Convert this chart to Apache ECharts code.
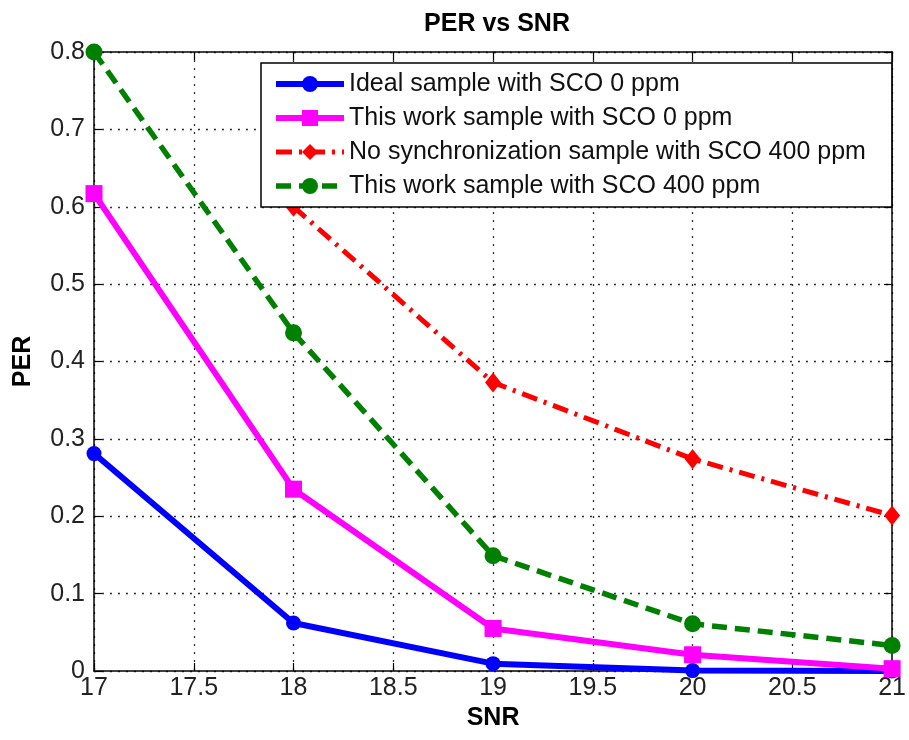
<!DOCTYPE html>
<html>
<head>
<meta charset="utf-8">
<script src="https://cdn.jsdelivr.net/npm/echarts@6/dist/echarts.min.js"></script>
<style>
html,body{margin:0;padding:0;background:#fff;}
#chart{width:909px;height:740px;}
</style>
</head>
<body>
<div id="chart"></div>
<script>
const snr = [17, 18, 19, 20, 21];
const xTicks = [17, 17.5, 18, 18.5, 19, 19.5, 20, 20.5, 21];
const yTicks = [0, 0.1, 0.2, 0.3, 0.4, 0.5, 0.6, 0.7, 0.8];
const idealSCO0 = [0.281, 0.062, 0.0095, 0.0005, 0.0];
const thisWorkSCO0 = [0.617, 0.235, 0.055, 0.021, 0.003];
const noSyncSCO400 = [null, 0.600, 0.373, 0.274, 0.201];
const thisWorkSCO400 = [0.800, 0.437, 0.149, 0.061, 0.033];
const seriesNames = [
  'Ideal sample with SCO 0 ppm',
  'This work sample with SCO 0 ppm',
  'No synchronization sample with SCO 400 ppm',
  'This work sample with SCO 400 ppm'
];

const FONT = "'Liberation Sans', Arial, sans-serif";
const pairs = arr => snr.map((x, i) => [x, arr[i]]);

const chart = echarts.init(document.getElementById('chart'), null, {renderer: 'canvas'});

const axisCommon = {
  type: 'value',
  axisLine: {show: true, onZero: false, lineStyle: {color: '#000', width: 1.5}},
  axisTick: {show: true, inside: true, length: 8, lineStyle: {color: '#000', width: 1.2}},
};

const styles = [
  {color: '#0000ff', width: 6, type: 'solid'},
  {color: '#ff00ff', width: 6, type: 'solid'},
  {color: '#ff0000', width: 5, type: [16, 7, 3, 7]},
  {color: '#008000', width: 5.5, type: [15, 8]}
];

chart.setOption({
  backgroundColor: '#fff',
  animation: false,
  title: {
    text: 'PER vs SNR',
    left: 492,
    textAlign: 'center',
    top: 7,
    textStyle: {fontFamily: FONT, fontWeight: 'bold', fontSize: 25, color: '#000'}
  },
  grid: {left: 94, right: 12, top: 52, bottom: 69},
  legend: {
    orient: 'vertical',
    left: 261,
    top: 63,
    padding: [8, 26, 8, 12],
    itemGap: 8,
    itemWidth: 68,
    itemHeight: 20,
    backgroundColor: '#fff',
    borderColor: '#000',
    borderWidth: 1.5,
    borderRadius: 0,
    z: 10,
    textStyle: {fontFamily: FONT, fontSize: 25, color: '#111', lineHeight: 26},
    data: seriesNames.map((n, i) => ({
      name: n,
      lineStyle: {width: styles[i].width, color: styles[i].color, type: styles[i].type}
    }))
  },
  xAxis: [
    Object.assign({}, axisCommon, {
      min: snr[0], max: snr[snr.length - 1], interval: xTicks[1] - xTicks[0],
      position: 'bottom',
      name: 'SNR', nameLocation: 'middle', nameGap: 32,
      nameTextStyle: {fontFamily: FONT, fontWeight: 'bold', fontSize: 25, color: '#000'},
      axisLabel: {show: true, margin: 5, fontFamily: FONT, fontSize: 25, color: '#222'},
      splitLine: {show: true, lineStyle: {color: '#333', width: 1.3, type: [2, 6]}}
    }),
    Object.assign({}, axisCommon, {
      min: snr[0], max: snr[snr.length - 1], interval: xTicks[1] - xTicks[0],
      position: 'top',
      axisLabel: {show: false},
      splitLine: {show: false}
    })
  ],
  yAxis: [
    Object.assign({}, axisCommon, {
      min: yTicks[0], max: yTicks[yTicks.length - 1], interval: yTicks[1] - yTicks[0],
      position: 'left',
      name: 'PER', nameLocation: 'middle', nameGap: 58, nameRotate: 90,
      nameTextStyle: {fontFamily: FONT, fontWeight: 'bold', fontSize: 25, color: '#000'},
      axisLabel: {show: true, margin: 9, fontFamily: FONT, fontSize: 25, color: '#222'},
      splitLine: {show: true, lineStyle: {color: '#333', width: 1.3, type: [2, 6]}}
    }),
    Object.assign({}, axisCommon, {
      min: yTicks[0], max: yTicks[yTicks.length - 1], interval: yTicks[1] - yTicks[0],
      position: 'right',
      axisLabel: {show: false},
      splitLine: {show: false}
    })
  ],
  series: [
    {
      name: seriesNames[0], type: 'line', data: pairs(idealSCO0),
      symbol: 'circle', symbolSize: 15,
      lineStyle: styles[0],
      itemStyle: {color: styles[0].color},
      z: 2
    },
    {
      name: seriesNames[1], type: 'line', data: pairs(thisWorkSCO0),
      symbol: 'rect', symbolSize: 17,
      lineStyle: styles[1],
      itemStyle: {color: styles[1].color},
      z: 3
    },
    {
      name: seriesNames[2], type: 'line', data: pairs(noSyncSCO400),
      connectNulls: false,
      symbol: 'diamond', symbolSize: [16, 20],
      lineStyle: styles[2],
      itemStyle: {color: styles[2].color},
      z: 4
    },
    {
      name: seriesNames[3], type: 'line', data: pairs(thisWorkSCO400),
      symbol: 'circle', symbolSize: 17,
      lineStyle: styles[3],
      itemStyle: {color: styles[3].color},
      z: 5
    }
  ]
});
</script>
</body>
</html>
